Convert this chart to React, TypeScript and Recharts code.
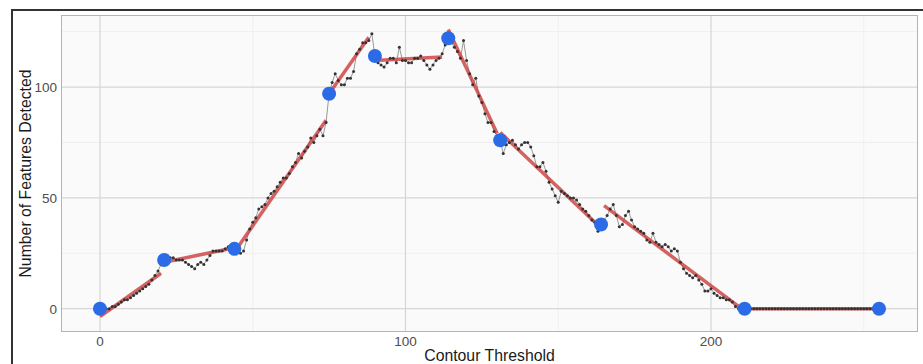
import { ComposedChart, Line, Scatter, XAxis, YAxis, CartesianGrid } from "recharts";

// features detected at each contour threshold 0..255
const FEATURE_COUNTS = [
  0, 0, 0, 0, 1, 1, 2, 3, 4, 4, 5, 6, 7, 8, 9, 10, 11, 13, 15, 17, 20, 22,
  24, 23, 23, 22, 22, 22, 21, 20, 19, 18, 20, 21, 20, 22, 24, 26, 26, 26, 26, 27, 28, 28, 27,
  26, 25, 26, 31, 36, 39, 41, 45, 46, 47, 50, 52, 53, 55, 57, 59, 59, 61, 64, 66, 70, 68, 71, 73, 77, 75, 78, 81, 78, 84,
  97, 102, 106, 103, 101, 101, 104, 104, 107, 115, 117, 120, 120, 121, 124, 114,
  111, 110, 109, 111, 113, 113, 111, 118, 112, 112, 111, 111, 113, 113, 114, 112, 110, 108, 110, 112, 113, 115, 119,
  122, 120, 118, 116, 113, 121, 112, 106, 101, 104, 96, 93, 88, 84, 84, 80, 78, 76,
  70, 74, 75, 76, 74, 72, 74, 75, 75, 73, 69, 64, 64, 66, 62, 57, 54, 51, 48, 53, 52, 51, 50, 50, 49, 47, 45, 44, 42, 40, 39, 35, 38,
  40, 42, 45, 47, 42, 37, 38, 42, 44, 40, 37, 36, 35, 34, 31, 30, 34, 30, 29, 28, 29, 28, 26, 27, 26, 21, 18, 16, 15, 14,
  15, 13, 11, 8, 8, 9, 7, 6, 5, 5, 4, 4, 3, 1, 0, 0,
  0, 0, 0, 0, 0, 0, 0, 0, 0, 0, 0, 0, 0, 0, 0, 0, 0, 0, 0, 0, 0, 0, 0, 0, 0,
  0, 0, 0, 0, 0, 0, 0, 0, 0, 0, 0, 0, 0, 0, 0, 0, 0, 0, 0, 0,
];

// breakpoints (blue dots)
const BREAK_X = [0, 21, 44, 75, 90, 114, 131, 164, 211, 255];
const BREAK_Y = [0, 22, 27, 97, 114, 122, 76, 38, 0, 0];

// piecewise linear fit (red segments)
const FIT_START_X = [0, 21, 45, 75, 90, 114, 131, 165, 211];
const FIT_START_Y = [-3.5, 21, 27.5, 97, 112, 126, 79.5, 46.5, 0];
const FIT_END_X = [20, 44, 74, 88, 112, 130, 162, 210, 255];
const FIT_END_Y = [16, 27.5, 85, 122.5, 113.5, 79, 39, 0, 0];

const X_TICKS = [0, 100, 200];
const Y_TICKS = [0, 50, 100];
const X_MINOR = [50, 150, 250];
const Y_MINOR = [25, 75, 125];

const W = 923;
const H = 364;
const PLOT_LEFT = 61;
const PLOT_TOP = 15;
const PLOT_RIGHT = 918;
const PLOT_BOTTOM = 332;

const countData = FEATURE_COUNTS.map((count, x) => ({ x, count }));
const breakData = BREAK_X.map((x, i) => ({ x, y: BREAK_Y[i] }));
const fitSegments = FIT_START_X.map((x0, i) => [
  { x: x0, fit: FIT_START_Y[i] },
  { x: FIT_END_X[i], fit: FIT_END_Y[i] },
]);

const tickStyle = { fontSize: 13.5, fill: "#4d4d4d" };
const titleStyle = { fontSize: 15.8, fill: "#1a1a1a" };

export default function App() {
  return (
    <div
      style={{
        position: "fixed",
        left: 0,
        top: 0,
        width: W,
        height: H,
        overflow: "hidden",
        background: "#fff",
        fontFamily: "'Liberation Sans', Arial, sans-serif",
      }}
    >
      <div
        style={{
          position: "absolute",
          left: 11,
          top: 9,
          width: 1000,
          height: 500,
          borderLeft: "2px solid #333",
          borderTop: "2px solid #333",
        }}
      />
      <ComposedChart
        width={W}
        height={H}
        data={countData}
        margin={{ top: PLOT_TOP, right: W - PLOT_RIGHT, bottom: 0, left: 0 }}
      >
        <CartesianGrid
          fill="#fafafa"
          stroke="#ebebeb"
          strokeWidth={0.7}
          verticalValues={X_MINOR}
          horizontalValues={Y_MINOR}
        />
        <CartesianGrid
          stroke="#d6d6d6"
          strokeWidth={1.2}
          verticalValues={X_TICKS}
          horizontalValues={Y_TICKS}
        />
        <XAxis
          dataKey="x"
          type="number"
          domain={[-12.75, 267.75]}
          ticks={X_TICKS}
          allowDataOverflow
          tickLine={false}
          axisLine={false}
          tickSize={0}
          tickMargin={4}
          height={H - PLOT_BOTTOM}
          tick={tickStyle}
          label={{
            value: "Contour Threshold",
            position: "insideBottom",
            offset: 3,
            style: titleStyle,
          }}
        />
        <YAxis
          type="number"
          domain={[-10.5, 132.5]}
          ticks={Y_TICKS}
          allowDataOverflow
          tickLine={false}
          axisLine={false}
          tickSize={0}
          tickMargin={4}
          width={PLOT_LEFT}
          tick={tickStyle}
          label={{
            value: "Number of Features Detected",
            angle: -90,
            position: "insideLeft",
            offset: 25,
            style: { ...titleStyle, textAnchor: "middle" },
          }}
        />
        <Line
          dataKey="count"
          stroke="#6e6e6e"
          strokeWidth={0.7}
          dot={{ r: 1.5, fill: "#333", stroke: "none" }}
          activeDot={false}
          isAnimationActive={false}
        />
        {fitSegments.map((seg, i) => (
          <Line
            key={i}
            data={seg}
            dataKey="fit"
            stroke="#cc3b3b"
            strokeOpacity={0.8}
            strokeWidth={3.5}
            dot={false}
            activeDot={false}
            isAnimationActive={false}
          />
        ))}
        <Scatter
          data={breakData}
          dataKey="y"
          isAnimationActive={false}
          shape={(p: any) => <circle cx={p.cx} cy={p.cy} r={7} fill="#2b6ce6" />}
        />
      </ComposedChart>
      <div
        style={{
          position: "absolute",
          left: PLOT_LEFT,
          top: PLOT_TOP,
          width: PLOT_RIGHT - PLOT_LEFT - 2,
          height: PLOT_BOTTOM - PLOT_TOP - 2,
          border: "1px solid #b3b3b3",
          pointerEvents: "none",
        }}
      />
    </div>
  );
}
